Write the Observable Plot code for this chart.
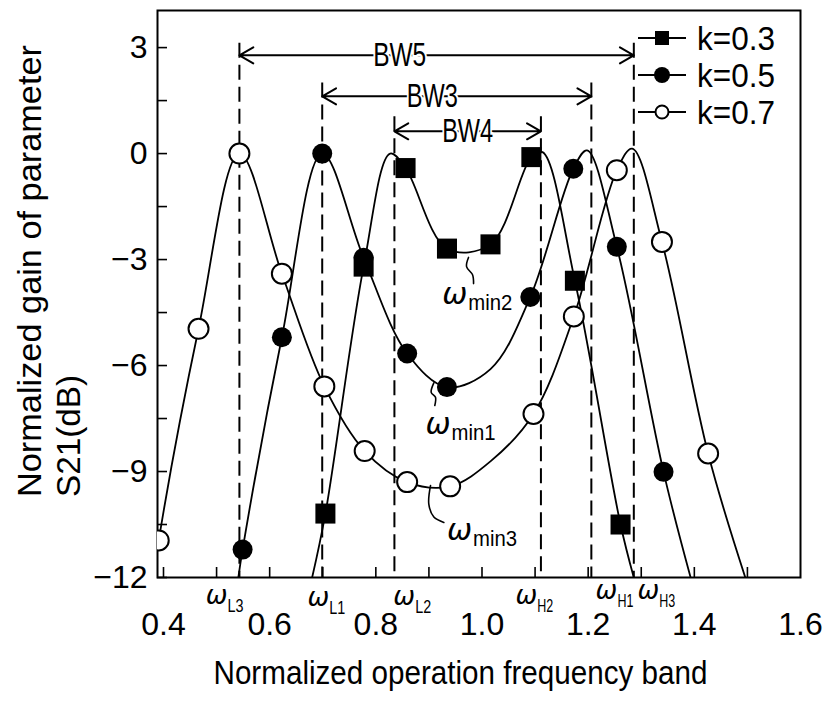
<!DOCTYPE html>
<html><head><meta charset="utf-8">
<script src="https://cdn.jsdelivr.net/npm/d3@7"></script>
<script src="https://cdn.jsdelivr.net/npm/@observablehq/plot@0.6"></script>
<style>
body{margin:0;background:#fff;}
#chart{width:829px;height:706px;}
</style>
</head><body><div id="chart"></div>
<script>
// ---- series: k = 0.3 (filled squares) ----
const k03X = [0.705, 0.777, 0.856, 0.934, 1.016, 1.093, 1.175, 1.261];
const k03Y = [-10.19, -3.20, -0.41, -2.69, -2.57, -0.10, -3.60, -10.50];
// extra points of the drawn curve (axis crossings and peaks)
const k03CurveX = [0.680, 0.827, 1.114, 1.286];
const k03CurveY = [-12.0, 0.0, 0.04, -12.0];

// ---- series: k = 0.5 (filled circles) ----
const k05X = [0.549, 0.623, 0.699, 0.777, 0.859, 0.934, 1.091, 1.172, 1.254, 1.342];
const k05Y = [-11.21, -5.20, 0.0, -2.95, -5.66, -6.61, -4.06, -0.43, -2.64, -9.01];
const k05CurveX = [0.541, 1.016, 1.198, 1.393];
const k05CurveY = [-12.0, -6.10, 0.09, -12.0];

// ---- series: k = 0.7 (open circles) ----
const k07X = [0.391, 0.466, 0.543, 0.623, 0.703, 0.779, 0.859, 0.940, 1.097, 1.173, 1.254, 1.339, 1.426];
const k07Y = [-10.95, -4.96, 0.0, -3.40, -6.59, -8.42, -9.30, -9.42, -7.37, -4.61, -0.47, -2.50, -8.49];
const k07CurveX = [0.372, 1.017, 1.283, 1.496];
const k07CurveY = [-13.0, -8.70, 0.14, -12.0];

// ---- band edges (dashed lines) ----
const omegaNames = ["L3", "L1", "L2", "H2", "H1", "H3"];
const omegaX = [0.543, 0.699, 0.835, 1.111, 1.206, 1.286];
const omegaTop = [3.12, 2.0, 1.04, 1.04, 2.0, 3.12];
const omegaLabelX = [0.4795, 0.6714, 0.833, 1.063, 1.214, 1.293];
const omegaLabelY = [-12.76, -12.82, -12.79, -12.74, -12.60, -12.60];

// ---- bandwidth arrows ----
const bwNames = ["BW5", "BW3", "BW4"];
const bwX1 = [0.543, 0.699, 0.835];
const bwX2 = [1.286, 1.206, 1.111];
const bwY = [2.78, 1.62, 0.63];
const bwLabelX = [0.845, 0.9065, 0.973];

// ---- minimum labels ----
const minNames = ["min2", "min1", "min3"];
const minLabelX = [0.925, 0.8935, 0.934];
const minLabelY = [-4.25, -7.93, -10.95];
const leaderName = ["min2","min2","min2","min2","min1","min1","min1","min1","min3","min3","min3","min3"];
const leaderX = [0.9746, 0.9709, 0.9822, 0.9841, 0.9093, 0.9043, 0.9124, 0.9111, 0.9030, 0.8998, 0.9093, 0.9281];
const leaderY = [-2.94, -3.20, -3.43, -3.68, -6.49, -6.76, -6.90, -7.13, -9.40, -9.92, -10.29, -10.44];

// ---- axes ----
const xTickLabels = [0.4, 0.6, 0.8, 1.0, 1.2, 1.4, 1.6];
const xTicks = [0.4, 0.5, 0.6, 0.7, 0.8, 0.9, 1.0, 1.1, 1.2, 1.3, 1.4, 1.5];
const yTickLabels = [3, 0, -3, -6, -9, -12];
const yTicks = [3, 1.5, 0, -1.5, -3, -4.5, -6, -7.5, -9, -10.5, -12];
const legendLabels = ["k=0.3", "k=0.5", "k=0.7"];

const FONT = '"Liberation Sans", Arial, sans-serif';

function curveData(xs, ys, ex, ey) {
  return xs.map((x, i) => ({x, y: ys[i]}))
    .concat(ex.map((x, i) => ({x, y: ey[i]})))
    .sort((a, b) => a.x - b.x);
}
const pts = (xs, ys) => xs.map((x, i) => ({x, y: ys[i]}));

const dashed = omegaX.map((x, i) => ({x, top: omegaTop[i], name: omegaNames[i]}));
const omegaLabels = omegaNames.map((n, i) => ({n, x: omegaLabelX[i], y: omegaLabelY[i]}));
const bw = bwNames.map((n, i) => ({n, x1: bwX1[i], x2: bwX2[i], y: bwY[i], lx: bwLabelX[i]}));
const mins = minNames.map((n, i) => ({n, x: minLabelX[i], y: minLabelY[i]}));
const leaders = leaderX.map((x, i) => ({x, y: leaderY[i], n: leaderName[i]}));

const lineStyle = {x: "x", y: "y", stroke: "black", strokeWidth: 1.8, curve: "catmull-rom", clip: true};

const plot = Plot.plot({
  width: 829,
  height: 706,
  marginLeft: 157,
  marginRight: 29,
  marginTop: 10,
  marginBottom: 129,
  x: {domain: [0.3887, 1.6]},
  y: {domain: [-12, 4.05]},
  style: {fontFamily: FONT, background: "white", color: "black"},
  marks: [
    // ticks (inward)
    Plot.axisX({ticks: xTicks, tickSize: 10, text: null, dy: -10, strokeWidth: 1.6}),
    Plot.axisY({ticks: yTicks, tickSize: 10, text: null, dx: 10, strokeWidth: 1.6}),
    // tick labels
    Plot.axisX({ticks: xTickLabels, tickSize: 0, tickPadding: 35, tickFormat: d3.format(".1f"), fontSize: 32}),
    Plot.axisY({ticks: yTickLabels, tickSize: 0, tickPadding: 10, fontSize: 32}),
    Plot.frame({stroke: "black", strokeWidth: 2}),
    // dashed band-edge lines
    Plot.ruleX(dashed, {x: "x", y1: "top", y2: -12, stroke: "black", strokeWidth: 2, strokeDasharray: "15,7"}),
    // curves
    Plot.line(curveData(k03X, k03Y, k03CurveX, k03CurveY), lineStyle),
    Plot.line(curveData(k05X, k05Y, k05CurveX, k05CurveY), lineStyle),
    Plot.line(curveData(k07X, k07Y, k07CurveX, k07CurveY), lineStyle),
    // markers
    Plot.dot(pts(k03X, k03Y), {x: "x", y: "y", symbol: "square", r: 11.3, fill: "black", clip: true}),
    Plot.dot(pts(k05X, k05Y), {x: "x", y: "y", symbol: "circle", r: 10, fill: "black", clip: true}),
    Plot.dot(pts(k07X, k07Y), {x: "x", y: "y", symbol: "circle", r: 10, fill: "white", stroke: "black", strokeWidth: 2, clip: true}),
    // bandwidth arrows
    Plot.arrow(bw, {x1: "lx", x2: "x1", y1: "y", y2: "y", stroke: "black", strokeWidth: 2, headLength: 12, bend: 0}),
    Plot.arrow(bw, {x1: "lx", x2: "x2", y1: "y", y2: "y", stroke: "black", strokeWidth: 2, headLength: 12, bend: 0}),
    Plot.text(bw, {x: "lx", y: "y", text: "n", fontSize: 34, stroke: "white", strokeWidth: 5, fill: "black"}),
    // minimum leaders and labels
    Plot.line(leaders, {x: "x", y: "y", z: "n", stroke: "black", strokeWidth: 1.6, curve: "catmull-rom"}),
    Plot.text(mins, {x: "x", y: "y", text: () => "ω", fontSize: 30, fontStyle: "italic", textAnchor: "start", lineAnchor: "bottom", fontFamily: '"DejaVu Sans", sans-serif'}),
    // omega tick labels
    Plot.text(omegaLabels, {x: "x", y: "y", text: () => "ω", fontSize: 26, fontStyle: "italic", textAnchor: "start", lineAnchor: "bottom", fontFamily: '"DejaVu Sans", sans-serif'}),
    // axis titles
    Plot.text(["Normalized gain of parameter"], {frameAnchor: "left", text: d => d, rotate: -90, textAnchor: "start", lineAnchor: "bottom", dx: -117, dy: 203, fontSize: 34}),
    Plot.text(["S21(dB)"], {frameAnchor: "left", text: d => d, rotate: -90, textAnchor: "start", lineAnchor: "bottom", dx: -78, dy: 203, fontSize: 34}),
    Plot.text(["Normalized operation frequency band"], {frameAnchor: "bottom-left", text: d => d, textAnchor: "start", lineAnchor: "bottom", dx: 56, dy: 106, fontSize: 33})
  ]
});

const svg = d3.select(plot);

// subscripts as tspans on the omega labels
const subs = minNames.concat(omegaNames);
const omegaTexts = svg.selectAll("text").filter(function() { return this.textContent === "ω"; }).nodes();
omegaTexts.forEach((node, i) => {
  const isMin = i < minNames.length;
  d3.select(node).append("tspan")
    .attr("dx", isMin ? 1 : 0)
    .attr("dy", isMin ? 6 : 8)
    .attr("font-size", isMin ? 22 : 18)
    .attr("font-style", "normal")
    .attr("font-family", FONT)
    .attr("textLength", isMin ? 44 : 16)
    .attr("lengthAdjust", "spacingAndGlyphs")
    .text(subs[i]);
});

// squeeze text widths to match the condensed lettering
const fit = {"Normalized operation frequency band": 494, "Normalized gain of parameter": 452, "S21(dB)": 122, "BW5": 53, "BW3": 51, "BW4": 51};
svg.selectAll("text").each(function() {
  const t = this.textContent;
  if (fit[t]) d3.select(this).attr("textLength", fit[t]).attr("lengthAdjust", "spacingAndGlyphs");
});

// legend (inside the frame, top right)
const lg = svg.append("g").attr("font-family", FONT).attr("text-anchor", "start");
legendLabels.forEach((lab, i) => {
  const yy = 38 + i * 37;
  lg.append("line").attr("x1", 638).attr("x2", 686).attr("y1", yy).attr("y2", yy)
    .attr("stroke", "black").attr("stroke-width", 2);
  if (i === 0) {
    lg.append("rect").attr("x", 655).attr("y", yy - 7).attr("width", 14).attr("height", 14).attr("fill", "black");
  } else if (i === 1) {
    lg.append("circle").attr("cx", 662).attr("cy", yy).attr("r", 8).attr("fill", "black");
  } else {
    lg.append("circle").attr("cx", 662).attr("cy", yy).attr("r", 6.5).attr("fill", "white").attr("stroke", "black").attr("stroke-width", 2);
  }
  lg.append("text").attr("x", 697).attr("y", yy + 12).attr("font-size", 34).attr("fill", "black")
    .attr("textLength", 78).attr("lengthAdjust", "spacingAndGlyphs").text(lab);
});

document.getElementById("chart").appendChild(plot);
</script>
</body></html>
